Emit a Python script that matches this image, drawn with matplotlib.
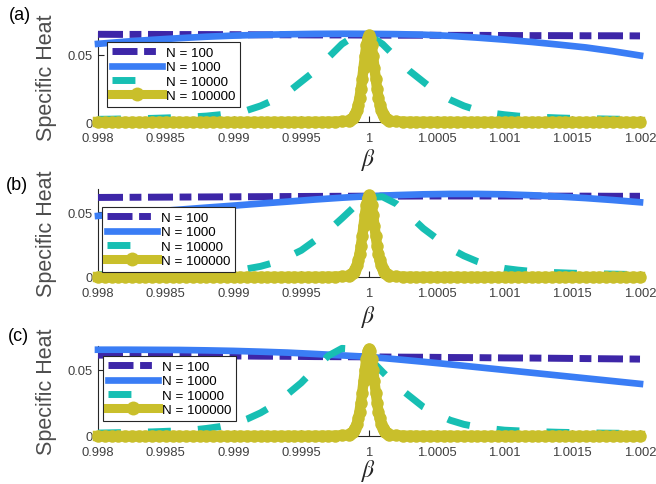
import numpy as np
import matplotlib
matplotlib.use('Agg')
import matplotlib.pyplot as plt

plt.rcParams['font.family'] = ['Liberation Sans', 'DejaVu Sans']
plt.rcParams['mathtext.fontset'] = 'stix'

# beta grids
beta_coarse = np.linspace(0.998, 1.002, 21)   # N = 100, 1000
beta_mid = np.linspace(0.998, 1.002, 41)      # N = 10000
beta_fine = np.concatenate([np.linspace(0.998, 0.99985, 38),
                            np.linspace(0.99986, 1.00014, 29),
                            np.linspace(1.00015, 1.002, 38)])  # N = 100000

# ---- panel (a)
n100_a = [0.0653, 0.0652, 0.0652, 0.0651, 0.0651, 0.0650, 0.0649, 0.0649, 0.0648, 0.0648, 0.0647,
          0.0646, 0.0646, 0.0645, 0.0645, 0.0644, 0.0643, 0.0643, 0.0642, 0.0642, 0.0641]
n1000_a = [0.0582, 0.0598, 0.0612, 0.0624, 0.0635, 0.0643, 0.0649, 0.0653, 0.0656, 0.0657, 0.0656,
           0.0654, 0.0650, 0.0641, 0.0628, 0.0613, 0.0596, 0.0576, 0.0555, 0.0527, 0.0495]
n10000_a = [0.0020, 0.0021, 0.0023, 0.0025, 0.0027, 0.0030, 0.0034, 0.0038, 0.0044, 0.0054,
            0.0067, 0.0087, 0.0120, 0.0165, 0.0220, 0.0300, 0.0380, 0.0480, 0.0580, 0.0645,
            0.0645, 0.0580, 0.0480, 0.0380, 0.0300, 0.0220, 0.0165, 0.0120, 0.0087, 0.0067,
            0.0054, 0.0044, 0.0038, 0.0034, 0.0030, 0.0027, 0.0025, 0.0023, 0.0021, 0.0020, 0.0019]
peak_a = [0.0015, 0.0021, 0.0030, 0.0043, 0.0063, 0.0092, 0.0130, 0.0180, 0.0245, 0.0320,
          0.0405, 0.0490, 0.0570, 0.0625, 0.0644, 0.0625, 0.0570, 0.0490, 0.0405, 0.0320,
          0.0245, 0.0180, 0.0130, 0.0092, 0.0063, 0.0043, 0.0030, 0.0021, 0.0015]

# ---- panel (b)
n100_b = [0.0612, 0.0613, 0.0614, 0.0615, 0.0616, 0.0617, 0.0618, 0.0619, 0.0620, 0.0621, 0.0622,
          0.0622, 0.0623, 0.0623, 0.0623, 0.0623, 0.0623, 0.0622, 0.0622, 0.0621, 0.0621]
n1000_b = [0.0470, 0.0487, 0.0503, 0.0518, 0.0534, 0.0549, 0.0565, 0.0580, 0.0596, 0.0610, 0.0622,
           0.0630, 0.0636, 0.0639, 0.0639, 0.0636, 0.0629, 0.0619, 0.0607, 0.0592, 0.0575]
n10000_b = [0.0018, 0.0019, 0.0020, 0.0022, 0.0024, 0.0026, 0.0029, 0.0033, 0.0036, 0.0041,
            0.0051, 0.0063, 0.0082, 0.0111, 0.0154, 0.0205, 0.0280, 0.0357, 0.0451, 0.0549,
            0.0612, 0.0617, 0.0564, 0.0472, 0.0374, 0.0296, 0.0219, 0.0163, 0.0119, 0.0086,
            0.0066, 0.0053, 0.0043, 0.0036, 0.0033, 0.0029, 0.0027, 0.0024, 0.0022, 0.0020, 0.0019]
peak_b = [0.0015, 0.0020, 0.0029, 0.0042, 0.0061, 0.0090, 0.0127, 0.0175, 0.0239, 0.0312,
          0.0394, 0.0477, 0.0555, 0.0609, 0.0627, 0.0609, 0.0555, 0.0477, 0.0394, 0.0312,
          0.0239, 0.0175, 0.0127, 0.0090, 0.0061, 0.0042, 0.0029, 0.0020, 0.0015]

# ---- panel (c)
n100_c = [0.0611, 0.0610, 0.0609, 0.0607, 0.0606, 0.0605, 0.0603, 0.0602, 0.0600, 0.0599, 0.0598,
          0.0596, 0.0595, 0.0593, 0.0592, 0.0590, 0.0589, 0.0587, 0.0585, 0.0583, 0.0581]
n1000_c = [0.0652, 0.0652, 0.0651, 0.0650, 0.0647, 0.0643, 0.0637, 0.0630, 0.0620, 0.0609, 0.0598,
           0.0580, 0.0561, 0.0541, 0.0520, 0.0499, 0.0478, 0.0457, 0.0436, 0.0415, 0.0394]
n10000_c = [0.0022, 0.0024, 0.0026, 0.0029, 0.0031, 0.0035, 0.0039, 0.0046, 0.0057, 0.0071,
            0.0093, 0.0128, 0.0175, 0.0235, 0.0317, 0.0402, 0.0507, 0.0606, 0.0662, 0.0656,
            0.0589, 0.0484, 0.0383, 0.0301, 0.0220, 0.0165, 0.0119, 0.0088, 0.0068, 0.0055,
            0.0044, 0.0039, 0.0035, 0.0031, 0.0028, 0.0026, 0.0024, 0.0022, 0.0021, 0.0020, 0.0019]
peak_c = [0.0015, 0.0021, 0.0031, 0.0044, 0.0064, 0.0094, 0.0133, 0.0184, 0.0251, 0.0327,
          0.0414, 0.0501, 0.0583, 0.0639, 0.0659, 0.0639, 0.0583, 0.0501, 0.0414, 0.0327,
          0.0251, 0.0184, 0.0133, 0.0094, 0.0064, 0.0044, 0.0031, 0.0021, 0.0015]

# N = 100000 tails (same in every panel)
tail_left = [0.00002, 0.00002, 0.00002, 0.00002, 0.00002, 0.00002, 0.00003, 0.00003, 0.00003, 0.00003,
             0.00003, 0.00003, 0.00004, 0.00004, 0.00004, 0.00004, 0.00004, 0.00005, 0.00005, 0.00005,
             0.00005, 0.00005, 0.00006, 0.00006, 0.00006, 0.00007, 0.00007, 0.00008, 0.00008, 0.00009,
             0.00010, 0.00010, 0.00011, 0.00014, 0.00018, 0.00025, 0.00045, 0.00105]
tail_right = [0.00105, 0.00045, 0.00025, 0.00018, 0.00014, 0.00011, 0.00010, 0.00010,
              0.00009, 0.00008, 0.00008, 0.00007, 0.00007, 0.00006, 0.00006, 0.00006, 0.00005, 0.00005,
              0.00005, 0.00005, 0.00005, 0.00004, 0.00004, 0.00004, 0.00004, 0.00004, 0.00003, 0.00003,
              0.00003, 0.00003, 0.00003, 0.00003, 0.00002, 0.00002, 0.00002, 0.00002, 0.00002, 0.00002]

labels = ['N = 100', 'N = 1000', 'N = 10000', 'N = 100000']
colors = ['#3d26a8', '#3a7df5', '#17bfb3', '#c9bf2b']
xticks = [0.998, 0.9985, 0.999, 0.9995, 1.0, 1.0005, 1.001, 1.0015, 1.002]
xticklabels = ['0.998', '0.9985', '0.999', '0.9995', '1', '1.0005', '1.001', '1.0015', '1.002']

W, H = 656, 485
fig = plt.figure(figsize=(W / 100, H / 100), dpi=100)

panels = [
    ('(a)', n100_a, n1000_a, n10000_a, peak_a, (33, 123), 0.067, (20, 15), 160, (107, 43)),
    ('(b)', n100_b, n1000_b, n10000_b, peak_b, (190, 278), 0.0677, (17, 186), 317, (102, 208)),
    ('(c)', n100_c, n1000_c, n10000_c, peak_c, (347, 437), 0.068, (18, 337), 471, (103, 357)),
]

for tag, y100, y1000, y10000, peak, (top, bot), ytop, tagpos, betay, legpos in panels:
    ax = fig.add_axes([98 / W, 1 - bot / H, 542 / W, (bot - top) / H])
    y100000 = tail_left + peak + tail_right

    ax.plot(beta_coarse, y100, color=colors[0], lw=5, dashes=(3.6, 0.95, 1.7, 0.95),
            label=labels[0], clip_on=False, zorder=3)
    ax.plot(beta_coarse, y1000, color=colors[1], lw=4.8, label=labels[1],
            clip_on=False, zorder=3)
    ax.plot(beta_mid, y10000, color=colors[2], lw=5, dashes=(3.3, 3.9),
            label=labels[2], clip_on=False, zorder=3)
    ax.plot(beta_fine, y100000, color=colors[3], lw=7.5, marker='o', ms=9, mew=0,
            label=labels[3], clip_on=False, zorder=3)

    ax.set_xlim(0.998, 1.002)
    ax.set_ylim(0, ytop)
    ax.set_xticks(xticks)
    ax.set_xticklabels(xticklabels)
    ax.set_yticks([0, 0.05])
    ax.set_yticklabels(['0', '0.05'])
    for s in ['top', 'right']:
        ax.spines[s].set_visible(False)
    for s in ['left', 'bottom']:
        ax.spines[s].set_color('#262626')
        ax.spines[s].set_linewidth(0.8)
    ax.tick_params(direction='in', length=4, width=0.8, colors='#262626',
                   labelcolor='#404040', labelsize=9.4)
    ax.tick_params(axis='x', pad=7)
    ax.tick_params(axis='y', pad=4)

    leg = ax.legend(loc='upper left', bbox_to_anchor=(legpos[0] / W, 1 - legpos[1] / H),
                    bbox_transform=fig.transFigure, borderaxespad=0, fontsize=9.6,
                    handlelength=3.75, handletextpad=0.3, borderpad=0.35, labelspacing=0.15,
                    fancybox=False, framealpha=1, edgecolor='#262626', numpoints=1)
    leg.get_frame().set_linewidth(0.8)
    leg.set_zorder(5)
    # legend marker for N = 100000 is drawn larger than the line, as in the original
    leg.legend_handles[3].set_linewidth(6.5)
    leg.legend_handles[3].set_markersize(10)

    fig.text(47 / W, 1 - (top + bot) / 2 / H, 'Specific Heat', rotation=90,
             ha='center', va='center', fontsize=15.5, color='#4d4d4d')
    fig.text(tagpos[0] / W, 1 - tagpos[1] / H, tag, ha='center', va='center',
             fontsize=13, color='black')
    fig.text(369 / W, 1 - betay / H, r'$\beta$', ha='center', va='center',
             fontsize=17, color='#262626')

fig.savefig('out.png', dpi=100)
